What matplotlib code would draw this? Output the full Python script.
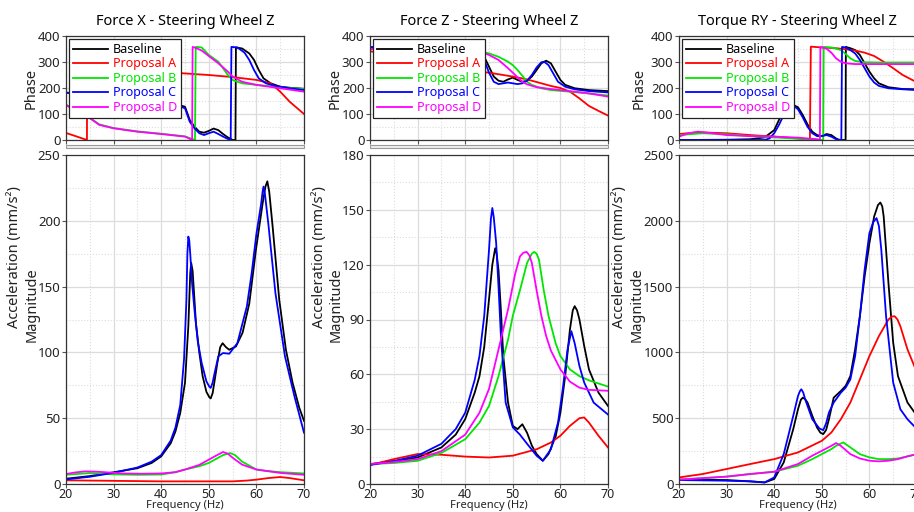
import numpy as np
import matplotlib
matplotlib.use('Agg')
import matplotlib.pyplot as plt
from matplotlib.ticker import MultipleLocator
from matplotlib.patches import Rectangle

plt.rcParams['font.family'] = ['Noto Sans', 'DejaVu Sans']

titles = ['Force X - Steering Wheel Z', 'Force Z - Steering Wheel Z', 'Torque RY - Steering Wheel Z']
names = ['Baseline', 'Proposal A', 'Proposal B', 'Proposal C', 'Proposal D']
colors = ['#000000', '#ff0000', '#00e600', '#0000ff', '#ff00ff']

# ---- Force X: phase (freq, deg) ----
fx_ph_base = [(20, 182), (25, 176), (30, 168), (33, 160), (36, 152), (40, 145), (43, 138), (45, 128), (46, 77), (47, 51), (48, 32),
              (49, 28), (50, 35), (51, 44), (52, 38), (53, 23), (54, 10), (55, 0), (55.6, 0), (55.7, 356),
              (57, 352), (58.5, 333), (59.5, 308), (60.5, 269), (61.5, 237), (63, 218), (65, 205), (67, 201), (70, 197)]
fx_ph_a = [(20, 27), (22, 15), (24.4, 0), (24.45, 330), (27, 295), (30, 282), (33.5, 270), (40, 262), (45, 256),
           (50, 250), (55, 242), (60, 231), (63, 218), (65, 186), (67, 147), (70, 100)]
fx_ph_b = [(20, 136), (22, 112), (24.4, 93), (27, 60), (30, 46), (35, 33), (40, 24), (45, 14), (47.1, 0), (47.25, 358),
           (48.5, 356), (50, 327), (52, 301), (53, 276), (54, 250), (55, 231), (57, 218), (60, 212), (65, 203), (70, 196)]
fx_ph_c = [(20, 182), (25, 176), (30, 168), (33, 160), (36, 152), (40, 143), (43, 135), (45, 122), (46, 70), (47, 45), (48, 26),
           (49, 19), (50, 26), (51, 32), (52, 23), (53, 13), (54, 4), (54.6, 0), (54.75, 358),
           (56, 356), (57.5, 336), (58.5, 308), (59.5, 269), (60.5, 237), (62, 218), (64, 208), (67, 199), (70, 192)]
fx_ph_d = [(20, 135), (22, 112), (24.4, 92), (27, 58), (30, 45), (35, 32), (40, 23), (45, 13), (46.5, 0), (46.6, 358),
           (47, 356), (48.5, 344), (50, 323), (52, 295), (54, 263), (55, 244), (57, 224), (60, 212), (65, 199), (70, 186)]

# ---- Force X: magnitude (freq, mm/s2) ----
fx_mag_base = [(20, 4), (25, 6), (30, 8.9), (35, 12), (38, 16), (40, 21), (42, 31), (43, 40), (44, 54), (45, 77), (45.7, 120),
               (46.1, 160), (46.3, 168), (46.6, 162), (46.9, 145), (47.3, 122), (48, 100), (48.7, 82), (49.5, 70), (50.1, 66),
               (50.4, 65), (50.8, 69), (51.2, 78), (51.8, 92), (52.4, 104), (52.9, 107), (53.6, 104), (54.3, 102),
               (55.7, 104.5), (57.1, 115), (58.5, 137), (59.9, 178), (61.3, 213), (61.9, 226), (62.3, 230), (62.7, 222),
               (63.4, 196), (64.8, 140), (66.2, 102), (67.6, 77), (69, 58), (70, 48)]
fx_mag_a = [(20, 2.8), (30, 2.4), (40, 2), (50, 2), (55, 2), (58, 2.6), (60, 3.3), (62.5, 4.5), (65, 5.3), (67, 4.5), (70, 2.8)]
fx_mag_b = [(20, 7), (25, 8.3), (30, 7.3), (35, 7), (40, 7.2), (43, 9), (45, 11), (48, 13.5), (50, 16), (52, 20), (53, 22),
            (54.5, 23.5), (55.5, 22), (57, 17), (58.5, 14), (60, 11), (62, 10), (65, 9), (70, 8)]
fx_mag_c = [(20, 3.5), (25, 5.5), (30, 8.5), (35, 12.5), (38, 17), (40, 22), (42, 33), (43, 43), (44, 60), (44.8, 95), (45.3, 140),
            (45.5, 175), (45.7, 188), (45.9, 185), (46.1, 175), (46.5, 152), (47, 132), (47.7, 108), (48.5, 92), (49.5, 78),
            (50.1, 74), (50.4, 73), (50.8, 77), (51.2, 84), (52, 97), (53, 99.5), (54.3, 99), (56, 107), (58, 135), (59, 160),
            (60, 190), (61, 213), (61.3, 222), (61.5, 226), (61.8, 220), (62.5, 198), (64, 145), (66, 97), (68, 66.5), (70, 39)]
fx_mag_d = [(20, 7.6), (22, 8.8), (24, 9.6), (26, 9.4), (28, 9), (32, 8), (36, 7.8), (40, 8), (43, 9), (45, 11), (48, 14.5),
            (50, 18.5), (51.5, 21.5), (53, 24.3), (54, 23), (55, 20), (57, 14.7), (60, 11), (65, 8.4), (70, 7)]

# ---- Force Z: phase ----
fz_ph_base = [(20, 354), (30, 350), (38, 345), (42.5, 340), (44, 320), (45, 282), (46, 244), (47, 228), (48, 224), (49, 233), (50, 240),
              (51, 231), (52, 224), (53, 228), (54, 244), (55, 269), (56, 295), (57, 305), (58, 295), (59, 263), (60, 231),
              (61, 212), (63, 199), (66, 192), (70, 188)]
fz_ph_a = [(20, 342), (25, 320), (30, 296), (35, 280), (42.5, 263), (45, 259), (48, 250), (50, 244), (53, 233), (56, 218),
           (58, 208), (60, 200), (62, 186), (64, 160), (66, 131), (68, 112), (70, 94)]
fz_ph_b = [(20, 350), (30, 348), (38, 346), (42.5, 344), (45, 333), (47, 320), (49, 301), (50, 288), (51, 269), (52, 247), (53, 224),
           (54, 212), (56, 199), (58, 192), (62, 186), (66, 179), (70, 171)]
fz_ph_c = [(20, 358), (30, 352), (38, 346), (42.5, 340), (44, 308), (45, 259), (46, 224), (47, 215), (48, 218), (49, 221), (50, 218),
           (51, 215), (52, 218), (53, 228), (54, 250), (55, 279), (56, 299), (56.6, 301), (57.5, 288), (58.5, 256),
           (59.5, 224), (61, 205), (63, 195), (66, 188), (70, 183)]
fz_ph_d = [(20, 350), (30, 348), (38, 346), (42.5, 344), (45, 327), (47, 308), (49, 276), (50, 259), (51, 241), (52, 224), (53, 214),
           (55, 203), (58, 196), (62, 188), (66, 179), (70, 167)]

# ---- Force Z: magnitude ----
fz_mag_base = [(20, 10.9), (25, 12.5), (30, 14.5), (35, 20), (38, 27), (40, 35.5), (42, 50), (43, 59), (44, 75), (45, 101),
               (45.7, 120), (46.3, 129), (46.6, 126), (47, 117), (47.5, 95), (48, 70), (49, 44.5), (50, 31.8), (51, 30),
               (52, 32.7), (53, 28), (54, 21), (55, 16.4), (56.3, 12.7), (57.5, 16.4), (59, 26), (60, 39), (61, 59),
               (62, 84.5), (62.6, 95), (63, 97.3), (63.5, 95), (64, 90), (65, 75.5), (66, 62.7), (68, 50), (70, 42.7)]
fz_mag_a = [(20, 10.4), (25, 13.6), (30, 16.4), (35, 16), (40, 15), (45, 14.5), (50, 15.5), (55, 19), (58, 22.7), (60, 26.4),
            (62, 31.8), (64, 36), (65, 36.4), (66, 33.6), (68, 26.4), (70, 20)]
fz_mag_b = [(20, 10.9), (25, 11.5), (30, 12.7), (35, 17), (40, 24.5), (43, 33.6), (45, 42.7), (47, 59), (49, 79), (50, 92),
            (51.5, 106), (53, 121), (54, 126), (54.5, 127), (55, 126), (55.5, 122.7), (56.5, 106), (57.5, 92), (59, 77),
            (60, 70), (62, 62.7), (64, 59), (66, 56.7), (70, 53.3)]
fz_mag_c = [(20, 10.4), (25, 12.5), (30, 15.5), (35, 22), (38, 30), (40, 39), (42, 57), (43, 70), (44, 92), (45, 128),
            (45.4, 145), (45.7, 151), (46, 146), (46.5, 132), (47, 108), (47.5, 81), (48.5, 44.5), (50, 31), (51.5, 27),
            (53, 22), (55, 15.5), (56.3, 12.7), (58, 19), (59.5, 33.6), (60.5, 52), (61.5, 73.6), (62.3, 83.6), (63, 77),
            (64, 64.5), (65, 55.5), (67, 44.5), (70, 38)]
fz_mag_d = [(20, 10.9), (25, 12), (30, 13.6), (35, 18), (40, 27), (43, 39), (45, 52), (47, 73.6), (49, 95.5), (50.5, 115),
            (51.5, 124.5), (52.2, 126.5), (52.9, 127), (53.5, 125), (54, 121), (55, 106), (56, 92), (57, 81), (58, 73),
            (60, 62.7), (62, 56), (64, 52.7), (66, 51.5), (70, 51)]

# ---- Torque RY: phase ----
ty_ph_base = [(20, 0), (30, 1), (35, 3), (38, 10), (40, 38), (41, 77), (42, 115), (43, 128), (44, 135), (45, 126), (46, 96),
              (47, 60), (48, 32), (49, 19), (50, 15), (51, 23), (52, 19), (53, 6), (53.6, 0), (55, 0), (55.05, 358),
              (56, 353), (57, 346), (58, 327), (59, 295), (60, 263), (61, 237), (62, 218), (64, 203), (67, 196), (70, 195)]
ty_ph_a = [(20, 23), (23, 28), (25, 29), (30, 26), (35, 19), (40, 13), (45, 6), (47.5, 0), (47.7, 359), (50, 356), (53, 353),
           (55, 349), (57, 344), (59, 336), (61, 323), (63, 301), (65, 276), (67, 250), (69, 231), (70, 222)]
ty_ph_b = [(20, 19), (25, 26), (30, 22), (35, 15), (40, 10), (45, 5), (50.3, 0), (50.4, 358), (52, 356), (54, 346), (55, 331),
           (56, 314), (57, 304), (59, 299), (62, 298), (66, 298), (70, 298)]
ty_ph_c = [(20, 0), (30, 0), (38, 0), (39, 6), (40, 26), (41, 58), (42, 96), (43, 125), (44, 133), (45, 118), (46, 87),
           (47, 51), (48, 26), (49, 15), (50, 15), (51, 19), (52, 13), (53, 3), (54.1, 0), (54.25, 358), (55, 356),
           (56, 346), (57, 333), (58, 308), (59, 276), (60, 244), (61, 221), (62, 208), (64, 199), (67, 195), (70, 192)]
ty_ph_d = [(20, 13), (22, 26), (24, 32), (27, 26), (30, 19), (35, 15), (40, 13), (45, 9), (49, 3), (49.6, 0), (49.7, 358),
           (51, 351), (52, 336), (53, 314), (54, 301), (55, 295), (57, 292), (60, 292), (65, 292), (70, 292)]

# ---- Torque RY: magnitude ----
ty_mag_base = [(20, 33), (30, 30), (35, 20), (38, 12), (40, 38), (42, 164), (44, 417), (45, 568), (45.6, 640), (46, 656),
               (46.5, 645), (47, 619), (48, 518), (49, 429), (49.7, 390), (50.3, 379), (50.9, 410), (51.5, 492), (52.5, 656),
               (54, 707), (55, 745), (56, 820), (57, 1023), (58, 1275), (59, 1578), (60, 1830), (61, 2033), (61.8, 2120),
               (62.3, 2139), (62.7, 2110), (63, 2033), (64, 1528), (65, 1073), (66, 820), (68, 619), (70, 518)]
ty_mag_a = [(20, 50), (25, 76), (30, 114), (35, 152), (40, 189), (45, 240), (50, 328), (52, 391), (54, 492), (56, 619),
            (58, 795), (60, 972), (62, 1124), (64, 1250), (64.7, 1272), (65.3, 1275), (65.9, 1250), (66.5, 1199), (68, 1023),
            (70, 846)]
ty_mag_b = [(20, 33), (30, 56), (35, 76), (40, 93), (45, 139), (48, 189), (50, 227), (52, 265), (53, 290), (54.5, 316),
            (56, 278), (58, 227), (60, 202), (62, 189), (64, 189), (66, 194), (68, 210), (70, 227)]
ty_mag_c = [(20, 30), (30, 25), (35, 20), (38, 12), (40, 50), (42, 227), (44, 518), (45, 669), (45.4, 705), (45.7, 720),
            (46.1, 695), (46.5, 644), (48, 492), (49.5, 422), (50.3, 409), (50.9, 460), (51.5, 543), (52.5, 619), (54, 694),
            (55, 732), (56, 795), (57, 972), (58, 1275), (59, 1629), (60, 1906), (60.8, 1990), (61.5, 2020), (62, 1960),
            (62.5, 1780), (63.5, 1275), (65, 770), (66.5, 568), (68, 492), (70, 417)]
ty_mag_d = [(20, 33), (30, 56), (35, 76), (40, 93), (45, 152), (48, 215), (50, 252), (52, 290), (53, 311), (54, 290),
            (56, 227), (58, 194), (60, 177), (62, 172), (64, 177), (66, 189), (68, 210), (70, 227)]

phase_sets = [[fx_ph_base, fx_ph_a, fx_ph_b, fx_ph_c, fx_ph_d],
              [fz_ph_base, fz_ph_a, fz_ph_b, fz_ph_c, fz_ph_d],
              [ty_ph_base, ty_ph_a, ty_ph_b, ty_ph_c, ty_ph_d]]
mag_sets = [[fx_mag_base, fx_mag_a, fx_mag_b, fx_mag_c, fx_mag_d],
            [fz_mag_base, fz_mag_a, fz_mag_b, fz_mag_c, fz_mag_d],
            [ty_mag_base, ty_mag_a, ty_mag_b, ty_mag_c, ty_mag_d]]
mag_max = [250, 180, 2500]
mag_major = [50, 30, 500]

W, H = 914, 512
fig = plt.figure(figsize=(W / 100, H / 100), dpi=100)


def box(l, t, r, b):
    return [l / W, 1 - b / H, (r - l) / W, (b - t) / H]


def style(ax):
    ax.set_xlim(20, 70)
    ax.xaxis.set_major_locator(MultipleLocator(10))
    ax.xaxis.set_minor_locator(MultipleLocator(5))
    ax.grid(True, which='major', color='#dcdcdc', lw=0.9)
    ax.grid(True, which='minor', color='#dcdcdc', lw=0.8, ls=':')
    ax.set_axisbelow(True)
    for s in ax.spines.values():
        s.set_color('#333333')
        s.set_linewidth(0.9)
    ax.tick_params(which='both', length=3, width=0.8, color='#555555', labelsize=9.5,
                   labelcolor='#222222', pad=1)
    ax.tick_params(axis='x', pad=0, labelsize=9)
    ax.tick_params(which='minor', length=0)


lefts = [66, 370, 679]
label_shift = [0, 0, -8]   # wider tick labels on the torque panel
for i, l in enumerate(lefts):
    r = l + 238
    axp = fig.add_axes(box(l, 36, r, 140))
    axm = fig.add_axes(box(l, 155, r, 484))

    for data, name, c in zip(phase_sets[i], names, colors):
        f, v = zip(*data)
        axp.plot(f, v, color=c, lw=1.3, label=name)
    for data, name, c in zip(mag_sets[i], names, colors):
        f, v = zip(*data)
        axm.plot(f, v, color=c, lw=1.3)

    style(axp)
    axp.set_ylim(0, 400)
    axp.yaxis.set_major_locator(MultipleLocator(100))
    axp.yaxis.set_minor_locator(MultipleLocator(50))
    axp.set_xticklabels([])
    axp.set_title(titles[i], fontsize=10.5, pad=8)
    leg = axp.legend(loc='upper left', fontsize=9, frameon=True, fancybox=False, borderaxespad=0.25,
                     handlelength=2.8, handletextpad=0.4, labelspacing=0.12, borderpad=0.3)
    leg.get_frame().set_edgecolor('#222222')
    leg.get_frame().set_linewidth(0.9)
    leg.get_frame().set_alpha(1)
    for t, c in zip(leg.get_texts(), colors):
        t.set_color(c)

    style(axm)
    axm.set_ylim(0, mag_max[i])
    axm.yaxis.set_major_locator(MultipleLocator(mag_major[i]))
    axm.yaxis.set_minor_locator(MultipleLocator(mag_major[i] / 2))

    # axis labels placed in pixel positions
    s = label_shift[i]
    fig.text((l - 35 + min(s + 3, 0)) / W, 1 - 88 / H, 'Phase', rotation=90, fontsize=10.5,
             ha='center', va='center', color='#222222')
    fig.text((l - 51 + s) / W, 1 - 257 / H, 'Acceleration (mm/s²)', rotation=90, fontsize=10.5,
             ha='center', va='center', color='#222222')
    fig.text((l - 34 + s) / W, 1 - 305 / H, 'Magnitude', rotation=90, fontsize=10.5,
             ha='center', va='center', color='#222222')
    fig.text((l + 119) / W, 1 - 511 / H, 'Frequency (Hz)', fontsize=8,
             ha='center', va='bottom', color='#222222')

    # break separator between phase and magnitude
    fig.add_artist(Rectangle((l / W, 1 - 148 / H), 238 / W, 3 / H, transform=fig.transFigure,
                             facecolor='#eeeeee', edgecolor='#9a9a9a', lw=0.8))

fig.savefig('out.png', dpi=100)
